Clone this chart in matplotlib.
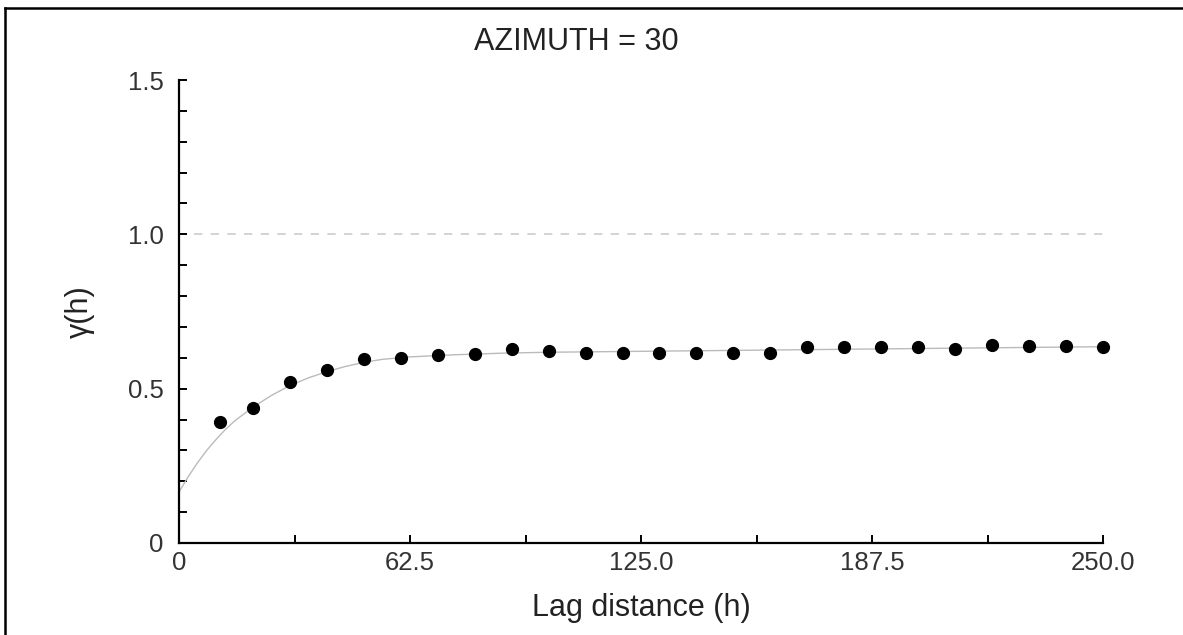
import numpy as np
import matplotlib
matplotlib.use('Agg')
import matplotlib.pyplot as plt
from matplotlib.lines import Line2D
from matplotlib.ticker import MultipleLocator, FixedLocator

plt.rcParams['font.family'] = ['Liberation Sans', 'DejaVu Sans']

# experimental variogram points
lags = [11, 20, 30, 40, 50, 60, 70, 80, 90, 100, 110, 120, 130, 140, 150,
        160, 170, 180, 190, 200, 210, 220, 230, 240, 250]
gamma = [0.392, 0.437, 0.523, 0.559, 0.596, 0.600, 0.610, 0.612, 0.627, 0.623,
         0.616, 0.616, 0.615, 0.616, 0.616, 0.615, 0.634, 0.634, 0.635, 0.634,
         0.629, 0.640, 0.637, 0.638, 0.634]

# fitted model
model_h = [0, 2.5, 5, 7.5, 10, 12.5, 15, 20, 25, 30, 35, 40, 45, 50, 55,
           62.5, 75, 87.5, 100, 125, 150, 175, 200, 225, 250]
model_g = [0.165, 0.215, 0.26, 0.30, 0.335, 0.367, 0.395, 0.44, 0.478, 0.51,
           0.535, 0.555, 0.572, 0.585, 0.595, 0.603, 0.610, 0.615, 0.618,
           0.621, 0.624, 0.627, 0.630, 0.633, 0.636]

sill = 1.0
x_ticks = [0, 31.25, 62.5, 93.75, 125.0, 156.25, 187.5, 218.75, 250.0]
x_labels = ['0', '', '62.5', '', '125.0', '', '187.5', '', '250.0']
y_ticks = [0, 0.5, 1.0, 1.5]
y_labels = ['0', '0.5', '1.0', '1.5']

W, H = 1183, 635
fig = plt.figure(figsize=(W / 100, H / 100), dpi=100)
ax = fig.add_axes([179 / W, 1 - 543 / H, (1103 - 179) / W, (543 - 80) / H])

ax.plot([4, 250], [sill, sill], color='#cccccc', lw=1.2, ls=(0, (5, 5)))
ax.plot(model_h, model_g, color='#bbbbbb', lw=1.0)
ax.plot(lags, gamma, 'o', color='black', ms=8.5, clip_on=False, zorder=5)

ax.set_xlim(0, 250)
ax.set_ylim(0, 1.5)
for s in ['top', 'right']:
    ax.spines[s].set_visible(False)
for s in ['left', 'bottom']:
    ax.spines[s].set_linewidth(1.6)

ax.xaxis.set_major_locator(FixedLocator(x_ticks))
ax.set_xticklabels(x_labels)
ax.set_yticks(y_ticks)
ax.set_yticklabels(y_labels)
ax.yaxis.set_minor_locator(MultipleLocator(0.1))
ax.tick_params(axis='both', which='both', direction='in', length=6, width=1.4,
               labelsize=18.5, colors='black')
ax.tick_params(axis='y', which='both', pad=11)
ax.tick_params(axis='x', pad=6)
for lab in ax.get_xticklabels() + ax.get_yticklabels():
    lab.set_color('#333333')

ax.set_xlabel('Lag distance (h)', fontsize=22, color='#222222', labelpad=13)
ax.set_ylabel('γ(h)', fontsize=22, color='#222222', labelpad=24)
fig.text(576 / W, 1 - 42 / H, 'AZIMUTH = 30', fontsize=22, color='#222222',
         ha='center', va='center')

# frame around the figure (top and left visible)
fig.add_artist(Line2D([5 / W, 1], [1 - 8 / H, 1 - 8 / H], color='black', lw=1.8,
                      transform=fig.transFigure))
fig.add_artist(Line2D([5 / W, 5 / W], [0, 1 - 8 / H], color='black', lw=1.8,
                      transform=fig.transFigure))

fig.savefig('out.png', dpi=100)
